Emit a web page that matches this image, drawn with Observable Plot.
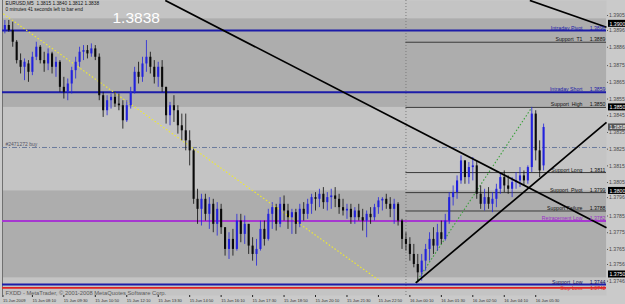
<!DOCTYPE html>
<html><head><meta charset="utf-8">
<script src="https://cdn.jsdelivr.net/npm/d3@7"></script>
<script src="https://cdn.jsdelivr.net/npm/@observablehq/plot@0.6"></script>
<style>
html,body{margin:0;padding:0;background:#cacaca;}
svg{display:block;}
</style></head><body><div id="chart"></div>
<script>
// ---------- data ----------
const symbol = "EURUSD,M5";
const firstBar = "2009-06-15T07:00Z";
const barMinutes = 10;
const open = [1.3896,1.3899,1.3896,1.3889,1.3878,1.3874,1.3876,1.3871,1.3880,1.3886,
1.3878,1.3876,1.3882,1.3874,1.3877,1.3862,1.3859,1.3864,1.3872,1.3877,
1.3883,1.3884,1.3882,1.3885,1.3880,1.3857,1.3848,1.3854,1.3856,1.3852,
1.3851,1.3842,1.3851,1.3859,1.3871,1.3868,1.3876,1.3880,1.3874,1.3868,
1.3874,1.3862,1.3845,1.3851,1.3848,1.3839,1.3836,1.3830,1.3824,1.3795,
1.3789,1.3795,1.3786,1.3792,1.3780,1.3789,1.3778,1.3765,1.3771,1.3765,
1.3782,1.3774,1.3780,1.3767,1.3762,1.3765,1.3777,1.3771,1.3786,1.3790,
1.3780,1.3792,1.3788,1.3784,1.3787,1.3780,1.3789,1.3786,1.3792,1.3796,
1.3795,1.3798,1.3793,1.3796,1.3797,1.3795,1.3790,1.3788,1.3789,1.3784,
1.3788,1.3784,1.3782,1.3786,1.3784,1.3790,1.3794,1.3795,1.3792,1.3789,
1.3792,1.3782,1.3771,1.3768,1.3762,1.3756,1.3751,1.3758,1.3765,1.3771,
1.3767,1.3775,1.3771,1.3782,1.3796,1.3799,1.3806,1.3818,1.3808,1.3814,
1.3815,1.3798,1.3792,1.3796,1.3792,1.3795,1.3801,1.3808,1.3803,1.3801,
1.3805,1.3806,1.3809,1.3806,1.3814,1.3846,1.3824,1.3815];
const high = [1.3902,1.3902,1.3901,1.3890,1.3882,1.3879,1.3878,1.3883,1.3889,1.3887,
1.3883,1.3885,1.3883,1.3880,1.3878,1.3868,1.3867,1.3874,1.3880,1.3886,
1.3887,1.3887,1.3888,1.3887,1.3882,1.3859,1.3857,1.3858,1.3859,1.3858,
1.3854,1.3854,1.3862,1.3874,1.3877,1.3880,1.3890,1.3883,1.3878,1.3877,
1.3878,1.3862,1.3853,1.3857,1.3851,1.3846,1.3846,1.3836,1.3825,1.3801,
1.3798,1.3798,1.3796,1.3795,1.3793,1.3792,1.3778,1.3775,1.3777,1.3786,
1.3786,1.3785,1.3780,1.3772,1.3771,1.3782,1.3782,1.3789,1.3793,1.3792,
1.3796,1.3797,1.3792,1.3789,1.3789,1.3792,1.3793,1.3795,1.3798,1.3799,
1.3801,1.3802,1.3799,1.3801,1.3802,1.3798,1.3795,1.3792,1.3792,1.3790,
1.3792,1.3789,1.3788,1.3790,1.3792,1.3796,1.3796,1.3798,1.3796,1.3795,
1.3793,1.3783,1.3775,1.3772,1.3768,1.3762,1.3762,1.3768,1.3775,1.3778,
1.3780,1.3782,1.3786,1.3799,1.3803,1.3809,1.3821,1.3818,1.3817,1.3820,
1.3818,1.3803,1.3801,1.3802,1.3799,1.3804,1.3811,1.3812,1.3809,1.3808,
1.3811,1.3814,1.3812,1.3815,1.3850,1.3848,1.3830,1.3840];
const low = [1.3894,1.3895,1.3886,1.3876,1.3870,1.3866,1.3865,1.3869,1.3878,1.3876,
1.3871,1.3872,1.3870,1.3868,1.3859,1.3855,1.3854,1.3858,1.3867,1.3874,
1.3878,1.3879,1.3880,1.3878,1.3854,1.3844,1.3845,1.3849,1.3850,1.3848,
1.3837,1.3841,1.3849,1.3858,1.3864,1.3865,1.3871,1.3870,1.3864,1.3862,
1.3859,1.3840,1.3839,1.3841,1.3834,1.3830,1.3824,1.3815,1.3792,1.3780,
1.3779,1.3782,1.3777,1.3775,1.3773,1.3774,1.3761,1.3759,1.3761,1.3764,
1.3769,1.3768,1.3762,1.3758,1.3755,1.3764,1.3767,1.3770,1.3777,1.3776,
1.3778,1.3782,1.3777,1.3774,1.3774,1.3778,1.3782,1.3783,1.3786,1.3788,
1.3790,1.3789,1.3788,1.3789,1.3790,1.3786,1.3785,1.3783,1.3780,1.3780,
1.3782,1.3776,1.3772,1.3780,1.3782,1.3786,1.3788,1.3789,1.3784,1.3780,
1.3779,1.3765,1.3764,1.3758,1.3754,1.3745,1.3746,1.3752,1.3758,1.3762,
1.3764,1.3768,1.3770,1.3780,1.3791,1.3795,1.3804,1.3804,1.3804,1.3806,
1.3795,1.3789,1.3788,1.3789,1.3787,1.3790,1.3798,1.3799,1.3798,1.3796,
1.3801,1.3802,1.3803,1.3804,1.3811,1.3818,1.3808,1.3812];
const close = [1.3899,1.3896,1.3889,1.3878,1.3874,1.3877,1.3871,1.3880,1.3886,1.3878,
1.3876,1.3882,1.3874,1.3877,1.3862,1.3859,1.3864,1.3872,1.3877,1.3883,
1.3884,1.3882,1.3885,1.3880,1.3857,1.3848,1.3854,1.3856,1.3852,1.3851,
1.3842,1.3851,1.3859,1.3871,1.3868,1.3876,1.3880,1.3874,1.3868,1.3874,
1.3862,1.3845,1.3851,1.3848,1.3839,1.3836,1.3830,1.3824,1.3795,1.3789,
1.3795,1.3786,1.3792,1.3780,1.3789,1.3778,1.3765,1.3771,1.3765,1.3782,
1.3774,1.3780,1.3767,1.3762,1.3765,1.3777,1.3771,1.3786,1.3790,1.3780,
1.3792,1.3788,1.3784,1.3787,1.3780,1.3789,1.3786,1.3792,1.3796,1.3795,
1.3798,1.3793,1.3796,1.3797,1.3795,1.3790,1.3788,1.3789,1.3784,1.3788,
1.3784,1.3782,1.3786,1.3784,1.3790,1.3794,1.3795,1.3792,1.3789,1.3792,
1.3782,1.3771,1.3768,1.3762,1.3756,1.3751,1.3758,1.3765,1.3771,1.3767,
1.3775,1.3771,1.3782,1.3796,1.3799,1.3806,1.3818,1.3808,1.3814,1.3815,
1.3798,1.3792,1.3796,1.3792,1.3795,1.3801,1.3808,1.3803,1.3801,1.3805,
1.3806,1.3809,1.3806,1.3814,1.3846,1.3824,1.3812,1.3838];

// horizontal levels
const levelNames  = ["Intraday Pivot","Support  T1","Intraday Short","Support  High","Support Long","Support  Pivot","Support Failure","Retracement Low","Support  Low","Stop Loss"];
const levelValues = [1.3896,1.3889,1.3859,1.3850,1.3811,1.3799,1.3788,1.3782,1.3744,1.3742];
const levelKinds  = ["intraday","support","intraday","support","support","support","support","retrace","low","stop"];
const levelFrom   = [null,"2009-06-16T00:00Z",null,"2009-06-16T00:00Z","2009-06-16T00:00Z","2009-06-16T00:00Z","2009-06-16T00:00Z",null,null,null];

// background bands (zones as seen on the chart)
const bandLow  = [1.3850, 1.3748];
const bandHigh = [1.3903, 1.3800];

// order line
const orderPrice = 1.3826;
const orderLabel = "#2471272 buy";

// trend lines (time, price anchors)
const trendT1 = ["2009-06-15T13:48Z","2009-06-16T05:15Z","2009-06-16T00:25Z"];
const trendP1 = [1.3914, 1.3914, 1.3745];
const trendT2 = ["2009-06-16T08:30Z","2009-06-16T08:30Z","2009-06-16T08:30Z"];
const trendP2 = [1.3778, 1.3898, 1.3841];
// dotted helper lines
const dotT1 = ["2009-06-15T06:56Z","2009-06-16T00:25Z"];
const dotP1 = [1.3906, 1.3745];
const dotT2 = ["2009-06-15T22:55Z","2009-06-16T05:20Z"];
const dotP2 = [1.3746, 1.3850];
const dotKinds = ["fibo","range"];

const separator = "2009-06-16T00:00Z";

// axes
const priceTicks = [1.3905,1.3896,1.3886,1.3875,1.3865,1.3855,1.3845,1.3835,1.3825,1.3815,1.3805,1.3796,1.3785,1.3775,1.3765,1.3756,1.3746];
const roundLevels = [1.3900, 1.3850, 1.3800, 1.3750];
const timeTicks = ["2009-06-15T06:55Z","2009-06-15T08:10Z","2009-06-15T09:30Z","2009-06-15T10:50Z","2009-06-15T12:10Z","2009-06-15T13:30Z","2009-06-15T14:50Z","2009-06-15T16:10Z","2009-06-15T17:30Z","2009-06-15T18:50Z","2009-06-15T20:10Z","2009-06-15T21:30Z","2009-06-15T22:50Z","2009-06-16T00:10Z","2009-06-16T01:30Z","2009-06-16T02:50Z","2009-06-16T04:10Z","2009-06-16T05:30Z"];
const timeLabels = ["15 Jun 2009","15 Jun 08:10","15 Jun 09:30","15 Jun 10:50","15 Jun 12:10","15 Jun 13:30","15 Jun 14:50","15 Jun 16:10","15 Jun 17:30","15 Jun 18:50","15 Jun 20:10","15 Jun 21:30","15 Jun 22:50","16 Jun 00:10","16 Jun 01:30","16 Jun 02:50","16 Jun 04:10","16 Jun 05:30"];

const timerText = "0 minutes 41 seconds left to bar end";
const copyright = "FXDD - MetaTrader, \u00a9 2001-2008 MetaQuotes Software Corp.";

// ---------- build ----------
const bars = open.map((o, i) => ({
  t: d3.utcMinute.offset(new Date(firstBar), i * barMinutes),
  o, h: high[i], l: low[i], c: close[i]
}));
const last = bars[bars.length - 1];
const header = `${symbol}  ${last.o.toFixed(4)} ${last.h.toFixed(4)} ${last.l.toFixed(4)} ${last.c.toFixed(4)}`;

const xStart = new Date("2009-06-15T06:54Z");
const xEnd = new Date("2009-06-16T08:30Z");
const xBeyond = new Date("2009-06-16T09:40Z");

const levels = levelNames.map((name, i) => ({
  name, value: levelValues[i], kind: levelKinds[i],
  from: levelFrom[i] ? new Date(levelFrom[i]) : xStart
}));
const upperLevels = levels.filter(d => d.kind !== "stop");
const stopLevels = levels.filter(d => d.kind === "stop");
const bands = bandLow.map((lo, i) => ({lo, hi: bandHigh[i]}));
const trends = trendT1.map((t, i) => ({t1: new Date(t), p1: trendP1[i], t2: new Date(trendT2[i]), p2: trendP2[i]}));
const dots = dotT1.map((t, i) => ({t1: new Date(t), p1: dotP1[i], t2: new Date(dotT2[i]), p2: dotP2[i], kind: dotKinds[i]}));
const tickDates = timeTicks.map(s => new Date(s));
const tickLabelMap = new Map(tickDates.map((d, i) => [+d, timeLabels[i]]));

const lineColor = {intraday: "#1c1ca8", support: "#3a3a3a", retrace: "#a638d0", low: "#1c1ca8", stop: "#e02424"};
const lineWidth = {intraday: 2, support: 1, retrace: 2, low: 2, stop: 1.6};
const textColor = {intraday: "#1c1ca8", support: "#111", retrace: "#9a2cc8", low: "#101060", stop: "#e02424"};

const upColor = "#2222dd", downColor = "#0a0a0a";
const candleColor = d => d.c >= d.o ? upColor : downColor;

const chart = Plot.plot({
  width: 625, height: 304,
  marginLeft: 2, marginRight: 19, marginTop: 0, marginBottom: 9,
  style: {background: "#cacaca", fontFamily: "'Liberation Sans', Arial, sans-serif", fontSize: "6px", color: "#222"},
  x: {type: "utc", domain: [xStart, xEnd]},
  y: {domain: [1.373743, 1.391397]},
  marks: [
    Plot.frame({fill: "#c4c4c4"}),
    Plot.rect(bands, {y1: "lo", y2: "hi", fill: "#adadad"}),
    Plot.ruleX([new Date(separator)], {stroke: "#7c7c7c", strokeDasharray: "1,2"}),
    Plot.ruleX([xStart], {stroke: "#707070"}),
    // order line
    Plot.ruleY([orderPrice], {stroke: "#6b7b9c", strokeDasharray: "5,2,1,2"}),
    Plot.text([orderLabel], {x: () => xStart, y: () => orderPrice, text: d => d, dx: 3, dy: -1, lineAnchor: "bottom", textAnchor: "start", fill: "#556", fontSize: 5}),
    // level lines
    Plot.ruleY(levels, {y: "value", x1: "from", x2: () => xEnd, stroke: d => lineColor[d.kind], strokeWidth: d => lineWidth[d.kind]}),
    // dotted helper lines
    Plot.link(dots, {x1: "t1", y1: "p1", x2: "t2", y2: "p2", stroke: d => d.kind === "fibo" ? "#f2ec2a" : "#3aa03a", strokeDasharray: "1.5,2", strokeWidth: 1.1}),
    // candles
    Plot.ruleX(bars, {x: "t", y1: "l", y2: "h", stroke: candleColor, strokeWidth: 0.8}),
    Plot.ruleX(bars, {x: "t", y1: "o", y2: d => d.c === d.o ? d.c + 0.00006 : d.c, stroke: candleColor, strokeWidth: 2.1}),
    // trend lines
    Plot.link(trends, {x1: "t1", y1: "p1", x2: "t2", y2: "p2", stroke: "#000", strokeWidth: 1.7}),
    // level labels
    Plot.text(upperLevels, {x: () => xEnd, y: "value", text: "name", textAnchor: "end", lineAnchor: "bottom", dx: -24, dy: -1, fill: d => textColor[d.kind], fontSize: 5.2}),
    Plot.text(upperLevels, {x: () => xEnd, y: "value", text: d => d.value.toFixed(4), textAnchor: "end", lineAnchor: "bottom", dx: -1, dy: -1, fill: d => textColor[d.kind], fontSize: 5.2}),
    Plot.text(stopLevels, {x: () => xEnd, y: "value", text: "name", textAnchor: "end", lineAnchor: "middle", dx: -24, dy: 0.5, fill: d => textColor[d.kind], fontSize: 5}),
    Plot.text(stopLevels, {x: () => xEnd, y: "value", text: d => d.value.toFixed(4), textAnchor: "end", lineAnchor: "middle", dx: -1, dy: 0.5, fill: d => textColor[d.kind], fontSize: 5}),
    // header texts
    Plot.text([header], {frameAnchor: "top-left", dx: 3, dy: 1.5, text: d => d, textAnchor: "start", lineAnchor: "top", fill: "#111", fontSize: 4.8}),
    Plot.text([timerText], {frameAnchor: "top-left", dx: 3, dy: 7.5, text: d => d, textAnchor: "start", lineAnchor: "top", fill: "#111", fontSize: 4.8}),
    Plot.text([last.c], {frameAnchor: "top-left", dx: 110, dy: 11, text: d => d.toFixed(4), textAnchor: "start", lineAnchor: "top", fill: "#ffffff", fontSize: 15.5}),
    Plot.text([copyright], {frameAnchor: "bottom-left", dx: 3, dy: -1, text: d => d, textAnchor: "start", lineAnchor: "bottom", fill: "#5a5a5a", fontSize: 5.8}),
    // axes
    Plot.axisY(priceTicks, {anchor: "right", tickFormat: d => d.toFixed(4), tickSize: 1, tickPadding: 1.5, fontSize: 5.2, fill: "#4a4a4a", stroke: "#555", label: null}),
    Plot.axisX(tickDates, {anchor: "bottom", tickFormat: d => tickLabelMap.get(+d), textAnchor: "start", tickSize: 2, tickPadding: 1.5, fontSize: 4.1, fill: "#333", label: null}),
    // price boxes
    Plot.rect(roundLevels, {x1: () => xEnd, x2: () => xBeyond, y1: d => d - 0.00021, y2: d => d + 0.00021, fill: "#000", insetLeft: 2}),
    Plot.text(roundLevels, {x: () => xEnd, y: d => d, text: d => d.toFixed(4), textAnchor: "start", dx: 3, fill: "#fff", fontSize: 5.2}),
    Plot.rect([last.c], {x1: () => xEnd, x2: () => xBeyond, y1: d => d - 0.00021, y2: d => d + 0.00021, fill: "#555", insetLeft: 2}),
    Plot.text([last.c], {x: () => xEnd, y: d => d, text: d => d.toFixed(4), textAnchor: "start", dx: 3, fill: "#fff", fontSize: 5.2})
  ]
});
document.getElementById("chart").appendChild(chart);
</script>
</body></html>
